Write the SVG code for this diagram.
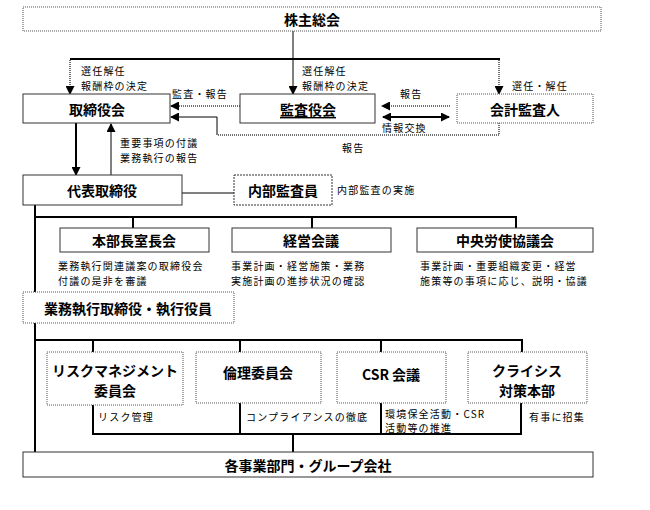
<svg xmlns="http://www.w3.org/2000/svg" width="650" height="510" viewBox="0 0 650 510">
<style>
.bx{fill:#fff;stroke:#333;stroke-width:1}
.dt{fill:#fff;stroke:#555;stroke-width:1;stroke-dasharray:1 1}
.t{font-family:"Noto Sans CJK JP","Liberation Sans",sans-serif;font-weight:bold;font-size:14px;fill:#000;text-anchor:middle;dominant-baseline:central}
.s{font-family:"Noto Sans CJK JP","Liberation Sans",sans-serif;font-size:10px;fill:#000;letter-spacing:1.2px}
.ln{fill:none;stroke:#000;stroke-width:1}
.th{fill:none;stroke:#000;stroke-width:2}
.dl{fill:none;stroke:#444;stroke-width:1.5;stroke-dasharray:1 1}
</style>
<defs>
<marker id="ah" markerUnits="userSpaceOnUse" markerWidth="9" markerHeight="9" refX="8" refY="4.5" orient="auto"><path d="M0,0L9,4.5L0,9z" fill="#000"/></marker>
<marker id="as" markerUnits="userSpaceOnUse" markerWidth="9" markerHeight="9" refX="1" refY="4.5" orient="auto"><path d="M9,0L0,4.5L9,9z" fill="#000"/></marker>
</defs>
<g id="connectors">
<line class="ln" x1="293" y1="31" x2="293" y2="94" marker-end="url(#ah)"/>
<line class="th" x1="70" y1="59" x2="500" y2="59"/>
<line class="dl" x1="70" y1="60" x2="70" y2="94" marker-end="url(#ah)"/>
<line class="dl" x1="499" y1="60" x2="499" y2="94" marker-end="url(#ah)"/>
<line class="dl" x1="240" y1="106" x2="171" y2="106" marker-end="url(#ah)"/>
<path class="dl" d="M499,123V135H217"/>
<path class="ln" d="M217,135V117H171" marker-end="url(#ah)"/>
<line class="dl" x1="450" y1="106" x2="382" y2="106" marker-end="url(#ah)"/>
<line class="th" x1="383" y1="117" x2="449" y2="117" marker-start="url(#as)" marker-end="url(#ah)"/>
<line class="th" x1="76" y1="123" x2="76" y2="175" marker-end="url(#ah)"/>
<line class="ln" x1="111" y1="175" x2="111" y2="124" marker-end="url(#ah)"/>
<line class="ln" x1="182" y1="193" x2="234" y2="193"/>
<line class="th" x1="35" y1="205" x2="35" y2="452"/>
<path class="th" d="M35,217H516V228"/>
<line class="th" x1="133" y1="217" x2="133" y2="228"/>
<line class="th" x1="312" y1="217" x2="312" y2="228"/>
<path class="th" d="M35,340H522V352"/>
<line class="th" x1="93" y1="340" x2="93" y2="352"/>
<line class="th" x1="240" y1="340" x2="240" y2="352"/>
<line class="th" x1="381" y1="340" x2="381" y2="352"/>
<path class="th" d="M93,405V434H521V403"/>
<line class="th" x1="240" y1="403" x2="240" y2="434"/>
<line class="th" x1="381" y1="403" x2="381" y2="434"/>
<line class="th" x1="293" y1="434" x2="293" y2="452"/>
</g>
<g id="labels">
<text class="s" x="81" y="75">選任解任</text>
<text class="s" x="81" y="90">報酬枠の決定</text>
<text class="s" x="172" y="98" letter-spacing="0">監査・報告</text>
<text class="s" x="302" y="75">選任解任</text>
<text class="s" x="302" y="90">報酬枠の決定</text>
<text class="s" x="400" y="98">報告</text>
<text class="s" x="512" y="90" letter-spacing="0">選任・解任</text>
<text class="s" x="382" y="132">情報交換</text>
<text class="s" x="342" y="152">報告</text>
<text class="s" x="120" y="147">重要事項の付議</text>
<text class="s" x="120" y="162">業務執行の報告</text>
<text class="s" x="337" y="194">内部監査の実施</text>
<text class="s" x="58" y="270">業務執行関連議案の取締役会</text>
<text class="s" x="58" y="285">付議の是非を審議</text>
<text class="s" x="231" y="270">事業計画・経営施策・業務</text>
<text class="s" x="231" y="285">実施計画の進捗状況の確認</text>
<text class="s" x="420" y="270">事業計画・重要組織変更・経営</text>
<text class="s" x="420" y="285">施策等の事項に応じ、説明・協議</text>
<text class="s" x="98" y="421" letter-spacing="0">リスク管理</text>
<text class="s" x="246" y="421" letter-spacing="0">コンプライアンスの徹底</text>
<text class="s" x="385" y="418">環境保全活動・CSR</text>
<text class="s" x="385" y="432">活動等の推進</text>
<text class="s" x="529" y="421">有事に招集</text>
</g>
<g id="n-kabunushi"><rect class="dt" x="23" y="7" width="578" height="24"/><text class="t" x="312" y="19">株主総会</text></g>
<g id="n-torishimariyakukai"><rect class="bx" x="23" y="94" width="147" height="29"/><text class="t" x="97" y="109">取締役会</text></g>
<g id="n-kansayakukai"><rect class="bx" x="240" y="94" width="135" height="29"/><text class="t" x="308" y="109" text-decoration="underline">監査役会</text></g>
<g id="n-kaikeikansanin"><rect class="dt" x="457" y="94" width="136" height="29"/><text class="t" x="525" y="109">会計監査人</text></g>
<g id="n-daihyo"><rect class="bx" x="23" y="175" width="159" height="30"/><text class="t" x="102" y="190">代表取締役</text></g>
<g id="n-naibu"><rect class="bx" x="234" y="175" width="98" height="30" stroke-dasharray="2 1"/><text class="t" x="283" y="190">内部監査員</text></g>
<g id="n-honbucho"><rect class="bx" x="60" y="228" width="149" height="24"/><text class="t" x="134" y="240">本部長室長会</text></g>
<g id="n-keiei"><rect class="bx" x="232" y="228" width="159" height="24"/><text class="t" x="311" y="240">経営会議</text></g>
<g id="n-roshi"><rect class="bx" x="417" y="228" width="176" height="24"/><text class="t" x="505" y="240">中央労使協議会</text></g>
<g id="n-gyomu"><rect class="dt" x="23" y="292" width="211" height="31"/><text class="t" x="128" y="308" font-size="15">業務執行取締役・執行役員</text></g>
<g id="n-risk"><rect class="dt" x="47" y="352" width="136" height="53"/><text class="t" x="115" y="370">リスクマネジメント</text><text class="t" x="115" y="390">委員会</text></g>
<g id="n-rinri"><rect class="dt" x="196" y="352" width="125" height="51"/><text class="t" x="258" y="372">倫理委員会</text></g>
<g id="n-csr"><rect class="dt" x="337" y="352" width="109" height="51"/><text class="t" x="391" y="374">CSR 会議</text></g>
<g id="n-crisis"><rect class="dt" x="468" y="352" width="119" height="51"/><text class="t" x="527" y="370">クライシス</text><text class="t" x="527" y="390">対策本部</text></g>
<g id="n-kakujigyo"><rect class="bx" x="23" y="452" width="570" height="25"/><text class="t" x="308" y="465">各事業部門・グループ会社</text></g>
</svg>
